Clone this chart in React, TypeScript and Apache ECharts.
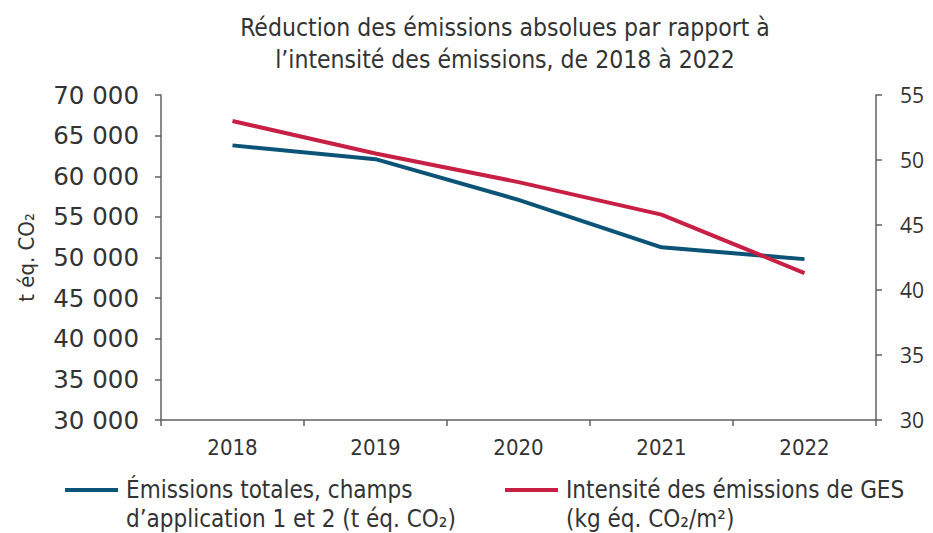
import React, { useEffect, useRef } from "react";
import * as echarts from "echarts";

const years = ["2018", "2019", "2020", "2021", "2022"];
const totalEmissions = [63800, 62100, 57100, 51250, 49800];
const intensity = [53.0, 50.5, 48.3, 45.8, 41.3];
const seriesNames = [
  "Émissions totales, champs\nd’application 1 et 2 (t éq. CO₂)",
  "Intensité des émissions de GES\n(kg éq. CO₂/m²)",
];
const titleText = "Réduction des émissions absolues par rapport à\nl’intensité des émissions, de 2018 à 2022";
const yAxisName = "t éq. CO₂";

const COND = "'DejaVu Sans Condensed', 'Liberation Sans Narrow', Roboto, sans-serif";
const BLUE = "#0b5477";
const RED = "#c81f45";
const TEXT = "#333333";
const AXIS = "#606060";

export default function App() {
  const ref = useRef<HTMLDivElement>(null);
  useEffect(() => {
    if (!ref.current) return;
    const chart = echarts.init(ref.current, null, { renderer: "svg" });
    const fmt = (v: number) => {
      const s = String(Math.round(v));
      return s.replace(/\B(?=(\d{3})+(?!\d))/g, " ");
    };
    const legendItems = [
      { x: 65, color: BLUE, name: seriesNames[0] },
      { x: 505, color: RED, name: seriesNames[1] },
    ];
    const legendGraphics = legendItems.flatMap((it) => [
      {
        type: "rect",
        shape: { x: it.x, y: 488, width: 53, height: 4 },
        style: { fill: it.color },
        silent: true,
      },
      {
        type: "text",
        x: it.x + 61,
        y: 475,
        style: {
          text: it.name,
          fontFamily: COND,
          fontSize: 24,
          lineHeight: 29,
          fill: TEXT,
          align: "left",
          verticalAlign: "top",
        },
        silent: true,
      },
    ]);
    chart.setOption({
      animation: false,
      title: {
        text: titleText,
        left: 500,
        top: 6,
        textAlign: "center",
        textStyle: {
          fontFamily: COND,
          fontSize: 24.5,
          lineHeight: 32,
          fontWeight: "normal",
          color: TEXT,
        },
      },
      graphic: legendGraphics,
      grid: { left: 161, right: 57, top: 95, bottom: 113, containLabel: false },
      xAxis: {
        type: "category",
        data: years,
        boundaryGap: true,
        axisLine: { show: true, lineStyle: { color: AXIS, width: 1.5 } },
        axisTick: { show: true, length: 6, lineStyle: { color: AXIS, width: 1.5 } },
        axisLabel: { fontFamily: COND, fontSize: 22, color: TEXT, margin: 16 },
        splitLine: { show: false },
      },
      yAxis: [
        {
          type: "value",
          min: 30000,
          max: 70000,
          interval: 5000,
          name: yAxisName,
          nameLocation: "middle",
          nameGap: 124,
          nameTextStyle: { fontFamily: COND, fontSize: 22, color: TEXT },
          axisLine: { show: true, lineStyle: { color: AXIS, width: 1.5 } },
          axisTick: { show: true, length: 6, lineStyle: { color: AXIS, width: 1.5 } },
          axisLabel: {
            fontFamily: "'DejaVu Sans', sans-serif",
            fontSize: 24.5,
            color: TEXT,
            margin: 22,
            formatter: fmt,
          },
          splitLine: { show: false },
        },
        {
          type: "value",
          position: "right",
          min: 30,
          max: 55,
          interval: 5,
          axisLine: { show: true, lineStyle: { color: AXIS, width: 1.5 } },
          axisTick: { show: true, length: 6, lineStyle: { color: AXIS, width: 1.5 } },
          axisLabel: {
            fontFamily: "'Open Sans', sans-serif",
            fontSize: 21,
            color: TEXT,
            margin: 24,
          },
          splitLine: { show: false },
        },
      ],
      series: [
        {
          name: seriesNames[0],
          type: "line",
          yAxisIndex: 0,
          data: totalEmissions,
          showSymbol: false,
          symbol: "none",
          lineStyle: { color: BLUE, width: 4 },
          itemStyle: { color: BLUE },
        },
        {
          name: seriesNames[1],
          type: "line",
          yAxisIndex: 1,
          data: intensity,
          showSymbol: false,
          symbol: "none",
          lineStyle: { color: RED, width: 4 },
          itemStyle: { color: RED },
        },
      ],
    });
    return () => chart.dispose();
  }, []);
  return <div ref={ref} style={{ width: 933, height: 533, position: "absolute", left: 0, top: 0 }} />;
}
